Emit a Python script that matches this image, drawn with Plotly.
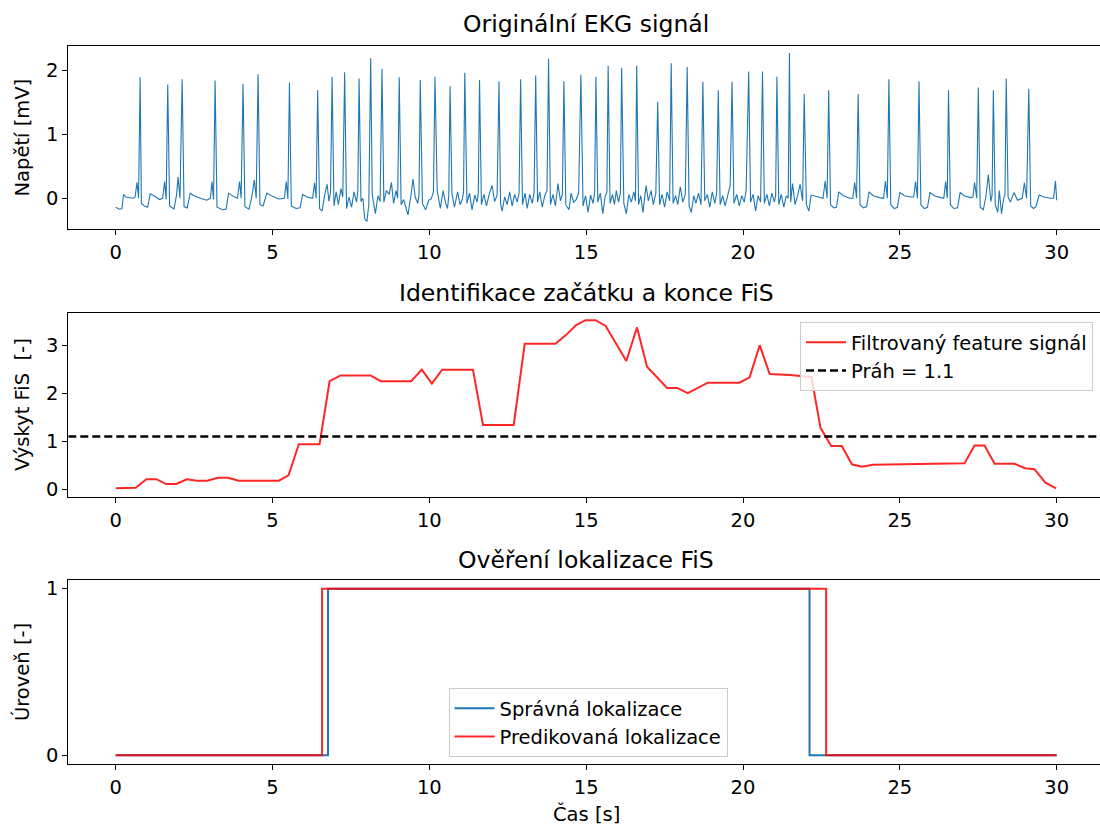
import plotly.graph_objects as go

# ---------------- DATA ----------------
# R-peaks of the ECG (time [s], amplitude [mV])
r_times = [0.78, 1.66, 2.12, 3.17, 4.06, 4.54, 5.54, 6.44, 6.90, 7.30, 7.76, 8.13, 8.49, 9.04,
           9.71, 10.18, 10.66, 11.13, 11.60, 12.22, 12.91, 13.39, 13.80, 14.29, 14.83, 15.31,
           15.70, 16.13, 16.61, 17.28, 17.71, 18.22, 18.72, 19.21, 19.65, 20.18, 20.62, 21.08,
           21.48, 21.95, 22.73, 23.67, 24.65, 25.61, 26.55, 27.50, 27.98, 28.39, 29.11]
r_amps = [1.89, 1.78, 1.86, 1.84, 1.79, 1.94, 1.81, 1.69, 1.90, 1.97, 1.87, 2.19, 2.02, 1.89,
          1.85, 1.90, 1.75, 1.96, 1.85, 1.83, 1.86, 1.92, 2.18, 1.83, 1.93, 1.90,
          2.07, 2.04, 2.07, 1.51, 2.11, 2.05, 1.82, 1.69, 1.82, 1.98, 1.98, 1.90,
          2.27, 1.63, 1.69, 1.63, 1.86, 1.83, 1.69, 1.73, 1.69, 1.87, 1.71]

# ECG baseline between R-peaks (P/T waves, fibrillation waves)
base_t = [0.00, 0.12, 0.20, 0.25, 0.32, 0.45, 0.55, 0.62, 0.68, 0.73,
          0.82, 0.92, 1.02, 1.10, 1.22, 1.40, 1.50, 1.56, 1.61,
          1.72, 1.86, 1.94, 1.99, 2.05,
          2.18, 2.28, 2.38, 2.50, 2.70, 2.90, 3.02, 3.07, 3.12,
          3.23, 3.40, 3.52, 3.60, 3.75, 3.88, 3.95, 4.00,
          4.12, 4.25, 4.35, 4.42, 4.48,
          4.60, 4.70, 4.82, 5.00, 5.20, 5.38, 5.44, 5.49,
          5.60, 5.75, 5.88, 5.96, 6.10, 6.28, 6.34, 6.39,
          6.50, 6.58, 6.66, 6.74, 6.80, 6.85,
          6.96, 7.03, 7.10, 7.18, 7.24,
          7.36, 7.44, 7.52, 7.60, 7.68, 7.72,
          7.82, 7.88, 7.94, 8.01, 8.07,
          8.18, 8.28, 8.36, 8.43,
          8.55, 8.63, 8.72, 8.79, 8.86, 8.94, 8.99,
          9.10, 9.18, 9.25, 9.32, 9.40, 9.48, 9.55, 9.63, 9.67,
          9.78, 9.88, 9.98, 10.06, 10.13,
          10.25, 10.35, 10.44, 10.52, 10.58, 10.62,
          10.72, 10.80, 10.90, 10.98, 11.05, 11.09,
          11.20, 11.28, 11.36, 11.45, 11.52, 11.56,
          11.66, 11.74, 11.82, 11.92, 12.00, 12.08, 12.16,
          12.27, 12.32, 12.40, 12.48, 12.56, 12.64, 12.72, 12.80, 12.86,
          12.97, 13.05, 13.12, 13.20, 13.28, 13.34,
          13.45, 13.52, 13.60, 13.68, 13.75,
          13.86, 13.94, 14.02, 14.10, 14.18, 14.24,
          14.35, 14.45, 14.52, 14.60, 14.68, 14.76,
          14.90, 14.98, 15.06, 15.14, 15.22, 15.27,
          15.37, 15.45, 15.53, 15.60, 15.66,
          15.76, 15.84, 15.90, 15.96, 16.03, 16.09,
          16.20, 16.28, 16.36, 16.44, 16.52, 16.57,
          16.67, 16.74, 16.81, 16.91, 16.98, 17.07, 17.14, 17.22,
          17.34, 17.42, 17.50, 17.58, 17.66,
          17.77, 17.85, 17.92, 18.00, 18.08, 18.16,
          18.28, 18.35, 18.43, 18.50, 18.58, 18.66,
          18.78, 18.86, 18.94, 19.02, 19.10, 19.16,
          19.27, 19.35, 19.43, 19.52, 19.59,
          19.71, 19.80, 19.88, 19.96, 20.04, 20.10,
          20.24, 20.32, 20.40, 20.48, 20.56,
          20.68, 20.76, 20.84, 20.92, 21.00, 21.04,
          21.14, 21.22, 21.30, 21.38, 21.44,
          21.52, 21.58, 21.66, 21.74, 21.82, 21.90,
          22.02, 22.10, 22.17, 22.26, 22.40, 22.55, 22.62, 22.68,
          22.79, 22.90, 22.98, 23.05, 23.20, 23.40, 23.50, 23.56, 23.62,
          23.73, 23.84, 23.94, 24.02, 24.15, 24.35, 24.48, 24.54, 24.60,
          24.71, 24.82, 24.92, 25.00, 25.15, 25.35, 25.44, 25.50, 25.56,
          25.67, 25.78, 25.88, 25.96, 26.10, 26.30, 26.40, 26.46, 26.51,
          26.61, 26.72, 26.84, 26.92, 27.05, 27.25, 27.33, 27.38, 27.45,
          27.56, 27.66, 27.74, 27.82, 27.90, 27.94,
          28.04, 28.12, 28.17, 28.24, 28.31, 28.35,
          28.45, 28.52, 28.64, 28.75, 28.90, 28.97, 29.04,
          29.17, 29.26, 29.34, 29.44, 29.60, 29.80, 29.90, 29.96, 30.00]
base_v = [-0.14, -0.17, -0.16, 0.06, 0.02, 0.01, 0.00, 0.02, 0.25, 0.00,
          -0.08, -0.12, -0.14, 0.07, 0.04, -0.02, 0.00, 0.26, -0.02,
          -0.12, -0.17, 0.05, 0.33, 0.00,
          -0.13, -0.15, 0.08, 0.04, 0.00, -0.03, 0.00, 0.26, -0.02,
          -0.14, -0.18, -0.17, 0.08, 0.03, 0.00, 0.26, 0.00,
          -0.13, -0.17, 0.05, 0.29, 0.00,
          -0.10, -0.12, 0.08, 0.03, -0.01, 0.00, 0.26, -0.01,
          -0.12, -0.16, -0.15, 0.06, 0.02, 0.00, 0.24, 0.00,
          -0.16, -0.20, 0.05, 0.22, -0.05, 0.10,
          -0.12, 0.10, -0.10, 0.15, 0.02,
          -0.16, 0.02, -0.14, 0.10, -0.06, 0.12,
          -0.05, 0.00, -0.32, -0.36, -0.10,
          0.05, -0.24, 0.04, -0.05,
          -0.06, 0.12, 0.06, 0.25, -0.08, 0.12, 0.00,
          -0.10, -0.02, -0.14, -0.26, 0.00, 0.30, 0.02, -0.08, 0.05,
          -0.08, -0.18, -0.03, -0.01, 0.10,
          0.12, -0.16, 0.12, -0.08, -0.16, 0.05,
          0.08, -0.14, 0.10, -0.10, -0.02, 0.10,
          -0.08, 0.08, -0.18, 0.05, -0.06, 0.08,
          -0.10, 0.06, -0.12, 0.08, 0.20, -0.05, 0.05,
          -0.08, -0.20, 0.02, -0.10, 0.10, -0.12, 0.06, -0.06, 0.08,
          -0.10, 0.08, -0.16, 0.06, -0.08, 0.10,
          -0.06, 0.10, -0.14, 0.04, 0.12,
          -0.10, 0.06, -0.12, 0.23, -0.04, 0.06,
          -0.10, -0.18, 0.08, -0.06, -0.02, 0.08,
          -0.12, 0.04, -0.22, 0.05, -0.08, 0.10,
          -0.06, 0.08, -0.24, 0.02, 0.10,
          -0.08, 0.06, -0.10, 0.12, -0.06, 0.08,
          -0.08, -0.24, 0.06, -0.06, 0.10, -0.04,
          -0.10, 0.04, -0.22, 0.20, -0.04, 0.12, -0.10, 0.08,
          -0.10, 0.06, -0.14, 0.10, -0.04,
          -0.08, 0.04, -0.10, 0.18, -0.06, 0.06,
          -0.12, -0.22, 0.04, -0.08, 0.08, -0.10,
          -0.04, 0.06, -0.14, 0.10, -0.08, 0.08,
          -0.10, 0.04, -0.12, 0.06, 0.20,
          -0.08, 0.06, -0.12, 0.04, -0.06, 0.14,
          -0.06, 0.06, -0.20, 0.04, -0.06,
          -0.08, 0.06, -0.12, 0.08, -0.06, 0.04,
          -0.10, 0.06, -0.14, 0.04, 0.00,
          -0.06, 0.23, -0.10, 0.04, 0.22, -0.04,
          -0.10, -0.20, 0.05, 0.04, 0.02, 0.00, 0.27, 0.00,
          -0.10, -0.15, -0.14, 0.10, 0.04, 0.00, 0.00, 0.25, 0.00,
          -0.10, -0.15, -0.13, 0.10, 0.04, 0.01, 0.00, 0.27, 0.00,
          -0.10, -0.16, -0.14, 0.09, 0.04, 0.02, 0.02, 0.26, 0.00,
          -0.10, -0.16, -0.14, 0.09, 0.04, 0.01, 0.00, 0.26, 0.00,
          -0.10, -0.16, -0.15, 0.09, 0.04, 0.01, 0.02, 0.25, 0.00,
          -0.14, -0.18, 0.02, 0.37, -0.05, 0.05,
          -0.10, -0.22, 0.12, -0.24, 0.00, 0.05,
          0.02, -0.06, 0.09, -0.03, 0.00, 0.24, 0.00,
          -0.12, -0.16, -0.13, 0.05, 0.02, 0.00, 0.00, 0.27, -0.03]

# Filtered feature signal
feat_t = [0.00, 0.64, 0.98, 1.30, 1.61, 1.93, 2.27, 2.59, 2.92, 3.26, 3.58, 3.92, 5.20, 5.51,
          5.84, 6.50, 6.82, 7.17, 8.13, 8.45, 9.42, 9.76, 10.08, 10.41, 11.39, 11.71, 12.69,
          13.04, 14.02, 14.37, 14.68, 14.98, 15.30, 15.62, 16.28, 16.62, 16.94, 17.58, 17.90,
          18.24, 18.88, 19.89, 20.21, 20.53, 20.85, 21.50, 22.18, 22.47, 22.81, 23.15, 23.47,
          23.79, 24.14, 24.78, 27.06, 27.38, 27.70, 28.02, 28.66, 28.99, 29.29, 29.64, 29.98]
feat_v = [0.02, 0.03, 0.21, 0.21, 0.11, 0.11, 0.21, 0.18, 0.18, 0.24, 0.24, 0.18, 0.18, 0.29,
          0.94, 0.94, 2.25, 2.37, 2.37, 2.25, 2.25, 2.49, 2.20, 2.49, 2.49, 1.34, 1.34,
          3.03, 3.03, 3.22, 3.42, 3.52, 3.52, 3.40, 2.67, 3.37, 2.55, 2.11, 2.11,
          2.00, 2.22, 2.22, 2.33, 3.00, 2.40, 2.38, 2.34, 1.28, 0.90, 0.90, 0.52,
          0.47, 0.51, 0.52, 0.54, 0.91, 0.91, 0.53, 0.53, 0.44, 0.42, 0.14, 0.02]
threshold = 1.1

# Localization (start / end of FiS)
t_total = 30.0
true_start, true_end = 6.77, 22.12
pred_start, pred_end = 6.58, 22.65

# ---------------- BUILD ----------------
pts = sorted(list(zip(base_t, base_v)) + list(zip(r_times, r_amps)))
ekg_t = [p[0] for p in pts]
ekg_v = [p[1] for p in pts]

BLUE = "#1f77b4"
RED = "rgba(255,0,0,0.85)"
FONT = "DejaVu Sans"
FS = 19.5      # tick / label / legend font
FT = 23.5      # title font

W, H = 1100, 827


def px_x(x):
    return x / W


def px_y(y):
    return 1 - y / H


XRANGE = [-1.51, 31.38]   # right frame edge lies just outside the picture

fig = go.Figure()

fig.add_trace(go.Scatter(x=ekg_t, y=ekg_v, mode="lines", line=dict(color=BLUE, width=1.1),
                         showlegend=False, xaxis="x", yaxis="y"))

fig.add_trace(go.Scatter(x=feat_t, y=feat_v, mode="lines", line=dict(color=RED, width=2),
                         name="Filtrovaný feature signál", xaxis="x2", yaxis="y2", legend="legend"))
fig.add_trace(go.Scatter(x=XRANGE, y=[threshold, threshold], mode="lines",
                         line=dict(color="black", width=2.4, dash="8px,4px"),
                         name=f"Práh = {threshold}", xaxis="x2", yaxis="y2", legend="legend"))

fig.add_trace(go.Scatter(x=[0, true_start, true_end, t_total], y=[0, 1, 0, 0], mode="lines",
                         line=dict(color=BLUE, width=2, shape="hv"),
                         name="Správná lokalizace", xaxis="x3", yaxis="y3", legend="legend2"))
fig.add_trace(go.Scatter(x=[0, pred_start, pred_end, t_total], y=[0, 1, 0, 0], mode="lines",
                         line=dict(color=RED, width=2, shape="hv"),
                         name="Predikovaná lokalizace", xaxis="x3", yaxis="y3", legend="legend2"))

xdom = [px_x(68.3), 1.0]


def ydom(top_px, bot_px):
    return [px_y(bot_px), px_y(top_px)]


axis_common = dict(showline=True, linecolor="black", linewidth=1.2,
                   ticks="outside", ticklen=5, tickwidth=1.2, tickcolor="black",
                   showgrid=False, zeroline=False, automargin=False,
                   tickfont=dict(family=FONT, size=FS, color="black"))

xt = dict(tickmode="array", tickvals=[0, 5, 10, 15, 20, 25, 30], range=XRANGE, domain=xdom,
          mirror=True)

legend_common = dict(bgcolor="rgba(255,255,255,0.8)", bordercolor="#cccccc", borderwidth=1,
                     font=dict(family=FONT, size=FS, color="black"), itemwidth=40)

layout = dict(
    width=W, height=H, margin=dict(l=0, r=0, t=0, b=0, autoexpand=False),
    paper_bgcolor="white", plot_bgcolor="white",
    font=dict(family=FONT, size=FS, color="black"),
    xaxis=dict(**axis_common, **xt, anchor="y"),
    yaxis=dict(**axis_common, domain=ydom(46, 229), range=[-0.48, 2.38],
               tickvals=[0, 1, 2], anchor="x", mirror=False),
    xaxis2=dict(**axis_common, **xt, anchor="y2"),
    yaxis2=dict(**axis_common, domain=ydom(313, 497), range=[-0.16, 3.67],
                tickvals=[0, 1, 2, 3], anchor="x2", mirror=False),
    xaxis3=dict(**axis_common, **xt, anchor="y3"),
    yaxis3=dict(**axis_common, domain=ydom(580, 764), range=[-0.052, 1.052],
                tickvals=[0, 1], anchor="x3", mirror=False),
    legend=dict(x=px_x(1093), y=px_y(322), xanchor="right", yanchor="top", **legend_common),
    legend2=dict(x=px_x(588), y=px_y(688), xanchor="center", yanchor="top", **legend_common),
)
fig.update_layout(**layout)

cx = px_x(586)
ann = [
    dict(text="Originální EKG signál", x=cx, y=px_y(24), size=FT),
    dict(text="Identifikace začátku a konce FiS", x=cx, y=px_y(293), size=FT),
    dict(text="Ověření lokalizace FiS", x=cx, y=px_y(560), size=FT),
    dict(text="Čas [s]", x=cx, y=px_y(814), size=FS),
]
for a in ann:
    fig.add_annotation(text=a["text"], x=a["x"], y=a["y"], xref="paper", yref="paper",
                       xanchor="center", yanchor="middle", showarrow=False,
                       font=dict(family=FONT, size=a["size"], color="black"))

ylabels = [("Napětí [mV]", (46 + 229) / 2), ("Výskyt FiS  [-]", (313 + 497) / 2),
           ("Úroveň [-]", (580 + 764) / 2)]
for txt, ypx in ylabels:
    fig.add_annotation(text=txt, x=px_x(22), y=px_y(ypx), xref="paper", yref="paper",
                       xanchor="center", yanchor="middle", showarrow=False, textangle=-90,
                       font=dict(family=FONT, size=FS, color="black"))

page_js = ("document.documentElement.style.margin='0';document.body.style.margin='0';"
           "document.body.style.padding='0';document.documentElement.style.overflow='hidden';"
           "document.body.style.overflow='hidden';")
fig.write_html("out.html", config={"responsive": False, "displayModeBar": False},
               post_script=page_js)
